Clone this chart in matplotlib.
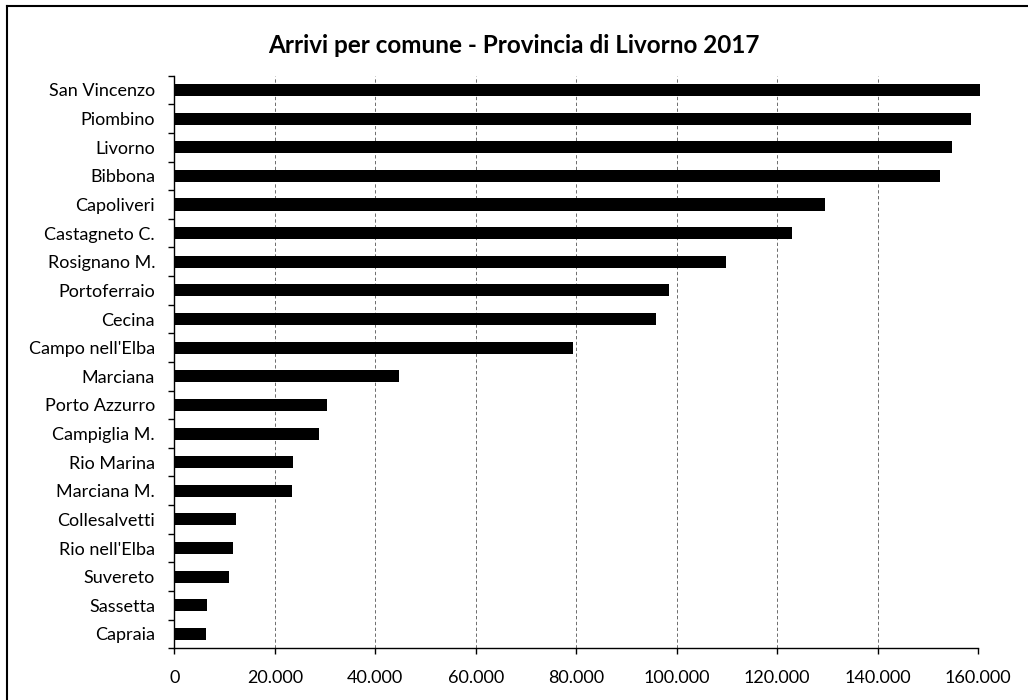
import matplotlib
matplotlib.use("Agg")
import matplotlib.pyplot as plt
from matplotlib.lines import Line2D
from matplotlib.ticker import FuncFormatter

comuni = ["San Vincenzo", "Piombino", "Livorno", "Bibbona", "Capoliveri",
          "Castagneto C.", "Rosignano M.", "Portoferraio", "Cecina",
          "Campo nell'Elba", "Marciana", "Porto Azzurro", "Campiglia M.",
          "Rio Marina", "Marciana M.", "Collesalvetti", "Rio nell'Elba",
          "Suvereto", "Sassetta", "Capraia"]
arrivi = [160300, 158600, 154900, 152500, 129500, 123000, 109800, 98500,
          95900, 79400, 44700, 30300, 28800, 23700, 23400, 12300, 11600,
          10800, 6500, 6300]
x_ticks = [0, 20000, 40000, 60000, 80000, 100000, 120000, 140000, 160000]

plt.rcParams['font.family'] = ['Lato', 'DejaVu Sans']

fig = plt.figure(figsize=(10.28, 7.0), dpi=100)
ax = fig.add_axes([0.1697, 0.0739, 0.9514 - 0.1697, 0.8919 - 0.0739])

n = len(comuni)
pos = list(range(n))
ax.barh(pos, arrivi, height=0.42, color="black", zorder=3, clip_on=False)

ax.set_xlim(0, 160000)
ax.set_ylim(n - 0.5, -0.5)
ax.set_xticks(x_ticks)
ax.xaxis.set_major_formatter(FuncFormatter(lambda v, p: f"{int(v):,}".replace(",", ".")))
ax.set_yticks(pos)
ax.set_yticklabels(comuni)
ax.set_yticks([i - 0.5 for i in range(n + 1)], minor=True)

ax.tick_params(axis="y", which="major", length=0, pad=14, labelsize=13)
ax.tick_params(axis="y", which="minor", length=4, width=1, direction="out")
ax.tick_params(axis="x", length=4, width=1, direction="out", labelsize=13, pad=12)

ax.grid(axis="x", linestyle=(0, (4, 3)), color="#555555", linewidth=0.6, zorder=0)
for s in ["top", "right"]:
    ax.spines[s].set_visible(False)
ax.spines["left"].set_linewidth(1)
ax.spines["bottom"].set_linewidth(1)

fig.text(0.5, 0.935, "Arrivi per comune - Provincia di Livorno 2017",
         ha="center", va="center", fontsize=17.5, fontweight="bold")

# border of the chart area (only top and left edge visible in the picture)
fig.add_artist(Line2D([7 / 1028, 1.0], [1 - 6 / 700, 1 - 6 / 700],
                      transform=fig.transFigure, color="black", linewidth=1.5))
fig.add_artist(Line2D([7 / 1028, 7 / 1028], [0.0, 1 - 6 / 700],
                      transform=fig.transFigure, color="black", linewidth=1.5))

fig.savefig("out.png", dpi=100)
